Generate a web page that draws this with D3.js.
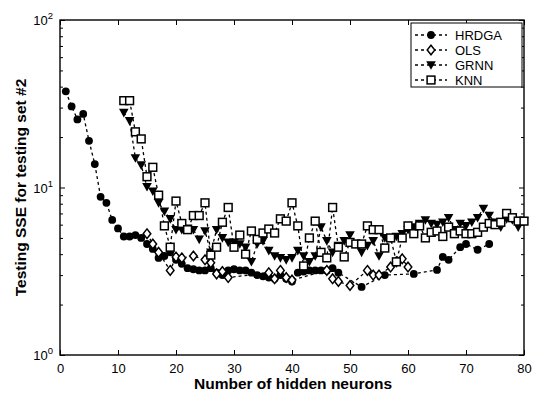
<!DOCTYPE html>
<html><head><meta charset="utf-8">
<script src="https://cdn.jsdelivr.net/npm/d3@7"></script>
<style>body{margin:0;background:#fff}svg{display:block}text{font-family:"Liberation Sans",Arial,sans-serif}</style>
</head><body><svg id="c" width="533" height="394"></svg>
<script>
const xTicks = [0,10,20,30,40,50,60,70,80];
const yTicks = [1,10,100];
const seriesNames = ["HRDGA","OLS","GRNN","KNN"];

const hrdgaX = [1,2,3,4,5,6,7,8,9,10,11,12,13,14,15,16,17,18,19,20,21,22,23,24,25,26,27,28,29,30,31,32,33,34,35,36,37,38,39,40,41,42,43,44,45,46,47,48,52,56,61,65,66,67,69,70,72,74];
const hrdgaY = [37.5,30.5,25.5,27.5,19,13.8,8.8,8.1,6.4,5.7,5.1,5.1,5.2,5.0,4.6,4.3,3.8,3.9,4.1,3.7,3.5,3.3,3.25,3.2,3.2,3.3,3.1,3.0,3.2,3.25,3.2,3.2,3.1,3.0,2.95,2.9,2.85,3.0,2.85,2.75,3.1,3.15,3.2,3.2,3.2,3.2,3.3,3.1,2.55,3.0,3.05,3.22,3.85,3.7,4.4,4.6,4.25,4.6];

const olsX = [15,16,17,19,20,21,23,25,26,27,28,29,36,37,38,39,40,46,47,48,50,53,54,55,57,58,59,60];
const olsY = [5.3,4.6,4.1,3.2,3.85,3.8,3.9,3.7,3.55,3.05,3.15,2.9,3.1,2.85,3.2,2.9,2.8,3.2,2.85,2.75,2.6,3.2,3.0,3.0,3.35,3.6,3.75,3.35];

const grnnX = d3.range(11,81);
const grnnY = [28,25,15,13.6,10.1,9.5,8.1,7.2,6.5,5.6,5.6,5.7,5.6,4.9,5.5,4.1,5.6,5.0,4.7,4.7,4.6,4.4,3.6,4.6,4.8,4.2,3.9,3.8,3.7,3.8,4.2,3.9,3.6,3.9,5.8,4.8,4.1,4.5,4.8,5.2,4.6,4.1,4.5,4.8,3.9,5.0,5.0,5.1,5.3,5.6,5.8,6.1,6.4,6.1,6.0,6.2,6.6,5.6,6.1,5.9,6.2,6.6,7.5,6.8,6.2,5.8,6.5,6.4,5.8,6.3];

const knnX = d3.range(11,81);
const knnY = [33,33,21.5,19.5,11.6,13.2,9.0,5.9,4.4,8.3,6.1,5.6,6.8,6.8,8.1,3.95,4.4,6.2,7.6,4.4,5.2,4.0,5.5,4.9,5.35,5.65,5.35,6.5,6.3,8.1,5.9,3.4,5.0,6.3,4.1,3.8,7.6,4.4,3.85,4.7,4.6,4.6,5.9,5.6,5.6,4.35,5.0,3.6,5.0,5.9,5.3,5.9,5.0,5.4,5.5,5.1,5.8,5.3,5.5,5.3,5.3,5.4,5.8,6.1,6.0,6.2,7.0,6.6,6.3,6.3];

const svg = d3.select("#c");
const L=60,R=524,T=20,B=355;
const x = d3.scaleLinear().domain([0,80]).range([L,R]);
const y = d3.scaleLog().domain([1,100]).range([B,T]);

svg.append("rect").attr("x",L).attr("y",T).attr("width",R-L).attr("height",B-T)
  .attr("fill","none").attr("stroke","#000").attr("stroke-width",1.4);

const gx = svg.append("g").attr("transform",`translate(0,${B})`)
  .call(d3.axisBottom(x).tickValues(xTicks).tickSize(-5).tickPadding(9).tickFormat(d3.format("d")));
const gxt = svg.append("g").attr("transform",`translate(0,${T})`)
  .call(d3.axisTop(x).tickValues(xTicks).tickSize(-5).tickFormat(""));
const minor = [];
for (let dec of [1,10]) for (let k=2;k<=9;k++) minor.push(dec*k);
const gy = svg.append("g").attr("transform",`translate(${L},0)`)
  .call(d3.axisLeft(y).tickValues(yTicks.concat(minor)).tickSize(-3).tickFormat(""));
const gyr = svg.append("g").attr("transform",`translate(${R},0)`)
  .call(d3.axisRight(y).tickValues(yTicks.concat(minor)).tickSize(-3).tickFormat(""));
gy.selectAll(".tick line").filter(d=>yTicks.includes(d)).attr("x2",5);
gyr.selectAll(".tick line").filter(d=>yTicks.includes(d)).attr("x2",-5);
[gx,gxt,gy,gyr].forEach(g=>{g.select(".domain").remove();g.selectAll("line").attr("stroke","#000");});
gx.selectAll("text").attr("font-size",13).attr("fill","#000").attr("font-family","Liberation Sans, Arial, sans-serif");

yTicks.forEach(v=>{
  const t = svg.append("text").attr("x",L-7).attr("y",y(v)+5).attr("text-anchor","end").attr("font-size",13);
  t.append("tspan").text("10");
  t.append("tspan").attr("dy",-6).attr("font-size",9.5).text(String(Math.round(Math.log10(v))));
});

svg.append("text").attr("x",293).attr("y",389).attr("text-anchor","middle")
  .attr("font-size",15.5).attr("font-weight","bold").text("Number of hidden neurons");
svg.append("text").attr("transform",`translate(26,${(T+B)/2}) rotate(-90)`).attr("text-anchor","middle")
  .attr("font-size",15.5).attr("font-weight","bold").text("Testing SSE for testing set #2");

const line = d3.line().x(d=>x(d[0])).y(d=>y(d[1]));
function marker(g, type, cx, cy){
  if(type==="circle") g.append("circle").attr("cx",cx).attr("cy",cy).attr("r",3.9).attr("fill","#000");
  else if(type==="diamond") g.append("path").attr("d",`M${cx},${cy-4.8}L${cx+3.8},${cy}L${cx},${cy+4.8}L${cx-3.8},${cy}Z`).attr("fill","#fff").attr("stroke","#000").attr("stroke-width",1.5);
  else if(type==="tri") g.append("path").attr("d",`M${cx-4.8},${cy-3.8}L${cx+4.8},${cy-3.8}L${cx},${cy+4.8}Z`).attr("fill","#000");
  else g.append("rect").attr("x",cx-3.9).attr("y",cy-3.9).attr("width",7.8).attr("height",7.8).attr("fill","#fff").attr("stroke","#000").attr("stroke-width",1.5);
}
const series = [
  {xs:hrdgaX, ys:hrdgaY, m:"circle"},
  {xs:olsX, ys:olsY, m:"diamond"},
  {xs:grnnX, ys:grnnY, m:"tri"},
  {xs:knnX, ys:knnY, m:"square"}
];
series.forEach(s=>{
  const pts = s.xs.map((v,i)=>[v,s.ys[i]]);
  const g = svg.append("g");
  g.append("path").attr("d",line(pts)).attr("fill","none").attr("stroke","#000").attr("stroke-width",1.3).attr("stroke-dasharray","3,3");
  pts.forEach(p=>marker(g,s.m,x(p[0]),y(p[1])));
});

const lg = svg.append("g");
lg.append("rect").attr("x",411).attr("y",23).attr("width",111).attr("height",64).attr("fill","#fff").attr("stroke","#000").attr("stroke-width",1);
["circle","diamond","tri","square"].forEach((m,i)=>{
  const yy = 35+i*15;
  lg.append("line").attr("x1",415).attr("x2",447).attr("y1",yy).attr("y2",yy).attr("stroke","#000").attr("stroke-width",1.3).attr("stroke-dasharray","3,3");
  marker(lg,m,431,yy);
  lg.append("text").attr("x",455).attr("y",yy+4.5).attr("font-size",13).text(seriesNames[i]);
});
</script></body></html>
